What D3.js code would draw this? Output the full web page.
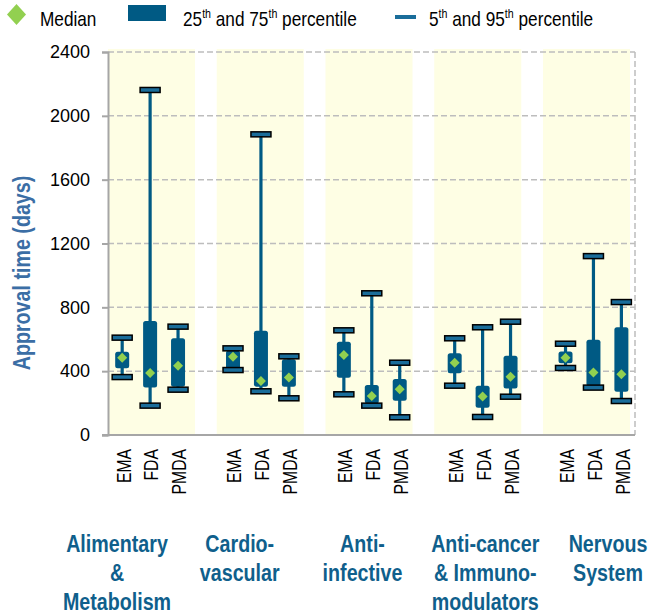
<!DOCTYPE html>
<html lang="en">
<head>
  <meta charset="utf-8">
  <script src="https://d3js.org/d3.v7.min.js"></script>
  <style>
    body { margin: 0; background: #fff; }
    svg text { font-family: "Liberation Sans", Arial, sans-serif; }
  </style>
</head>
<body>
<script>
// categories
const groups = ["Alimentary & Metabolism", "Cardiovascular", "Anti-infective",
                "Anti-cancer & Immunomodulators", "Nervous System"];
const groupLines = [["Alimentary", "&", "Metabolism"], ["Cardio-", "vascular"],
                    ["Anti-", "infective"], ["Anti-cancer", "& Immuno-", "modulators"],
                    ["Nervous", "System"]];
const agencies = ["EMA", "FDA", "PMDA"];
// approval time (days), one row per group, columns EMA / FDA / PMDA
const p5     = [[363, 184, 284], [407, 274, 230], [255, 184, 111], [309, 113, 240], [420, 297, 213]];
const p25    = [[418, 297, 303], [415, 303, 303], [359, 198, 215], [387, 171, 292], [449, 305, 271]];
const median = [[484, 388, 434], [491, 338, 361], [501, 244, 286], [453, 242, 365], [484, 391, 380]];
const p75    = [[522, 714, 606], [530, 654, 474], [585, 313, 351], [512, 309, 497], [524, 597, 675]];
const p95    = [[610, 2162, 679], [543, 1884, 493], [656, 888, 453], [606, 675, 710], [572, 1121, 833]];
const yTicks = [0, 400, 800, 1200, 1600, 2000, 2400];

const W = 651, H = 610;
const mLeft = 108, mRight = 635, mTop = 52, mBottom = 435;
const blue = "#005a84", green = "#92d050";
const narrow = 0.82; // condensed text look

const svg = d3.select("body").append("svg")
  .attr("width", W).attr("height", H);

const y = d3.scaleLinear().domain([0, 2400]).range([mBottom, mTop]);
// shaded group bands
const xBand = d3.scaleBand().domain(groups).range([mLeft, 630]).paddingInner(0.2);
// box positions
const x0 = d3.scaleBand().domain(groups).range([mLeft, 640]).paddingInner(0.2);
const x1 = d3.scalePoint().domain(agencies).range([x0.bandwidth() * 0.16, x0.bandwidth() * 0.79]);
const xLabel = d3.scalePoint().domain(groups).range([117, 608]);

// yellow bands
svg.append("g").selectAll("rect")
  .data(groups)
  .join("rect")
  .attr("x", d => xBand(d))
  .attr("y", y(2400) - 3)
  .attr("width", xBand.bandwidth())
  .attr("height", y(0) - y(2400) + 3)
  .attr("fill", "#fefee4");

// gridlines
svg.append("g").selectAll("line")
  .data(yTicks.filter(d => d > 0))
  .join("line")
  .attr("x1", mLeft).attr("x2", mRight)
  .attr("y1", d => y(d)).attr("y2", d => y(d))
  .attr("stroke", "#bdbdbd").attr("stroke-width", 1.5)
  .attr("stroke-dasharray", "6,3");
svg.append("line")
  .attr("x1", mRight).attr("x2", mRight)
  .attr("y1", y(2400)).attr("y2", y(0))
  .attr("stroke", "#bdbdbd").attr("stroke-width", 1.5)
  .attr("stroke-dasharray", "6,3");

// y axis
const yAxis = svg.append("g")
  .attr("transform", "translate(" + mLeft + ",0)")
  .call(d3.axisLeft(y).tickValues(yTicks).tickFormat(d3.format("d")).tickSize(6).tickPadding(12));
yAxis.selectAll("path, line").attr("stroke", "#a6a6a6").attr("stroke-width", 2);
yAxis.selectAll("text")
  .attr("font-size", 18).attr("fill", "#000");

// x axis line
svg.append("line")
  .attr("x1", mLeft - 6).attr("x2", mRight)
  .attr("y1", y(0)).attr("y2", y(0))
  .attr("stroke", "#a6a6a6").attr("stroke-width", 2);

// y title
svg.append("text")
  .attr("transform", "translate(22," + 273 + ") rotate(-90) scale(" + narrow + ",1)")
  .attr("text-anchor", "middle")
  .attr("dy", "0.35em")
  .attr("font-size", 24).attr("font-weight", "bold")
  .attr("fill", "#3b6ea5")
  .text("Approval time (days)");

// flatten boxes
const boxes = [];
groups.forEach((g, i) => {
  agencies.forEach((a, j) => {
    boxes.push({g: g, a: a, lo: p5[i][j], q1: p25[i][j], med: median[i][j], q3: p75[i][j], hi: p95[i][j]});
  });
});
const cx = d => x0(d.g) + x1(d.a);

const bx = svg.append("g").selectAll("g")
  .data(boxes)
  .join("g");

// whisker
bx.append("line")
  .attr("x1", cx).attr("x2", cx)
  .attr("y1", d => y(d.hi)).attr("y2", d => y(d.lo))
  .attr("stroke", blue).attr("stroke-width", 3.2);
// box
bx.append("rect")
  .attr("x", d => cx(d) - 7)
  .attr("y", d => y(d.q3))
  .attr("width", 14)
  .attr("height", d => y(d.q1) - y(d.q3))
  .attr("rx", 2.5)
  .attr("fill", blue);
// caps
bx.selectAll("rect.cap")
  .data(d => [{c: cx(d), v: d.hi}, {c: cx(d), v: d.lo}])
  .join("rect")
  .attr("class", "cap")
  .attr("x", d => d.c - 10)
  .attr("y", d => y(d.v) - 2.5)
  .attr("width", 20).attr("height", 5)
  .attr("fill", "#1a6d9a")
  .attr("stroke", "#000").attr("stroke-width", 1.5);
// median
bx.append("path")
  .attr("transform", d => "translate(" + cx(d) + "," + y(d.med) + ")")
  .attr("d", "M0,-5L5,0L0,5L-5,0Z")
  .attr("fill", green);

// agency labels
svg.append("g").selectAll("text")
  .data(boxes)
  .join("text")
  .attr("transform", d => "translate(" + (cx(d) + 1) + ",449) rotate(-90) scale(0.75,1)")
  .attr("text-anchor", "end")
  .attr("dy", "0.35em")
  .attr("font-size", 21)
  .attr("fill", "#000")
  .text(d => d.a);

// group labels
const lines = [];
groups.forEach((g, i) => groupLines[i].forEach((t, k) => lines.push({g: g, t: t, k: k})));
svg.append("g").selectAll("text")
  .data(lines)
  .join("text")
  .attr("transform", d => "translate(" + xLabel(d.g) + "," + (552 + d.k * 29) + ") scale(" + narrow + ",1)")
  .attr("text-anchor", "middle")
  .attr("font-size", 24).attr("font-weight", "bold")
  .attr("fill", "#0f5f8c")
  .text(d => d.t);

// legend
const lg = svg.append("g").attr("font-size", 21);
lg.append("path")
  .attr("d", "M16.5,4L26,14.5L16.5,25L7,14.5Z")
  .attr("fill", green);
lg.append("text").attr("transform", "translate(40,26) scale(" + narrow + ",1)").text("Median");
lg.append("rect")
  .attr("x", 128).attr("y", 5).attr("width", 38).attr("height", 16)
  .attr("fill", blue);
function pct(sel, a, b) {
  sel.append("tspan").text(a);
  sel.append("tspan").attr("font-size", 13).attr("dy", -8).text("th");
  sel.append("tspan").attr("dy", 8).text(" and " + b);
  sel.append("tspan").attr("font-size", 13).attr("dy", -8).text("th");
  sel.append("tspan").attr("dy", 8).text(" percentile");
}
pct(lg.append("text").attr("transform", "translate(183,26) scale(" + narrow + ",1)"), "25", "75");
lg.append("line")
  .attr("x1", 395).attr("x2", 416).attr("y1", 17).attr("y2", 17)
  .attr("stroke", "#1a6d9a").attr("stroke-width", 4);
pct(lg.append("text").attr("transform", "translate(429,26) scale(" + narrow + ",1)"), "5", "95");
</script>
</body>
</html>
